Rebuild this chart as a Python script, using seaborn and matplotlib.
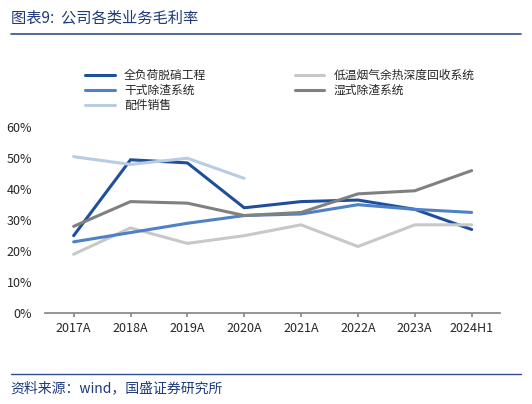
import matplotlib
matplotlib.use("Agg")
import matplotlib.pyplot as plt
import seaborn as sns
import pandas as pd

sns.set_theme(style="white")
plt.rcParams['font.family'] = ['Noto Sans CJK SC', 'DejaVu Sans']

years = ["2017A","2018A","2019A","2020A","2021A","2022A","2023A","2024H1"]
s_denox = [25, 49.5, 48.5, 34, 36, 36.5, 33.5, 27]
s_heat = [19, 27.5, 22.5, 25, 28.5, 21.5, 28.5, 28.5]
s_dry = [23, 26, 29, 31.5, 32, 35, 33.5, 32.5]
s_wet = [28, 36, 35.5, 31.5, 32.5, 38.5, 39.5, 46]
s_parts = [50.5, 48, 50, 43.5, None, None, None, None]
names = ["全负荷脱硝工程","低温烟气余热深度回收系统","干式除渣系统","湿式除渣系统","配件销售"]
colors = ["#1f4e9c","#c8c8c8","#4f81c7","#808080","#b8cce4"]

rows = []
for n, vals in zip(names, [s_denox, s_heat, s_dry, s_wet, s_parts]):
    for i, (y, v) in enumerate(zip(years, vals)):
        if v is not None:
            rows.append({"x": i, "series": n, "v": v/100})
df = pd.DataFrame(rows)

fig = plt.figure(figsize=(5.32, 4.04), dpi=100)
ax = fig.add_axes([0.085, 0.225, 0.855, 0.46])
sns.lineplot(data=df, x="x", y="v", hue="series", hue_order=names,
             palette=colors, linewidth=2.2, ax=ax, legend=False)
ax.set_xlim(-0.5, 7.5)
ax.set_ylim(0, 0.6)
ax.set_xticks(range(8)); ax.set_xticklabels(years, fontsize=9)
ax.set_yticks([i/10 for i in range(7)])
ax.set_yticklabels([f"{i*10}%" for i in range(7)], fontsize=9)
ax.set_xlabel(""); ax.set_ylabel("")
for s in ["top","right","left"]:
    ax.spines[s].set_visible(False)
ax.spines["bottom"].set_color("#888888")
ax.tick_params(axis="x", length=3, color="#888888", bottom=True)

from matplotlib.lines import Line2D
order = [0, 2, 4, 1, 3]
handles = [Line2D([0],[0],color=colors[i],lw=2.2) for i in order]
labels = [names[i] for i in order]
fig.legend(handles, labels, loc="upper left", bbox_to_anchor=(0.14, 0.855),
           ncol=2, frameon=False, fontsize=8.5, columnspacing=7.5,
           handlelength=2.5, labelspacing=0.15)

fig.text(0.02, 0.955, "图表9:  公司各类业务毛利率", fontsize=11, color="#1f3a7a",
         style="italic", va="center")
fig.add_artist(Line2D([0.02, 0.98], [0.915, 0.915], color="#2f4f8f", lw=1.2))
fig.add_artist(Line2D([0.02, 0.98], [0.075, 0.075], color="#2f4f8f", lw=1.0))
fig.text(0.02, 0.04, "资料来源：wind，国盛证券研究所", fontsize=10, color="#1f3a7a",
         style="italic", va="center")
fig.savefig("out.png", dpi=100, facecolor="white")
